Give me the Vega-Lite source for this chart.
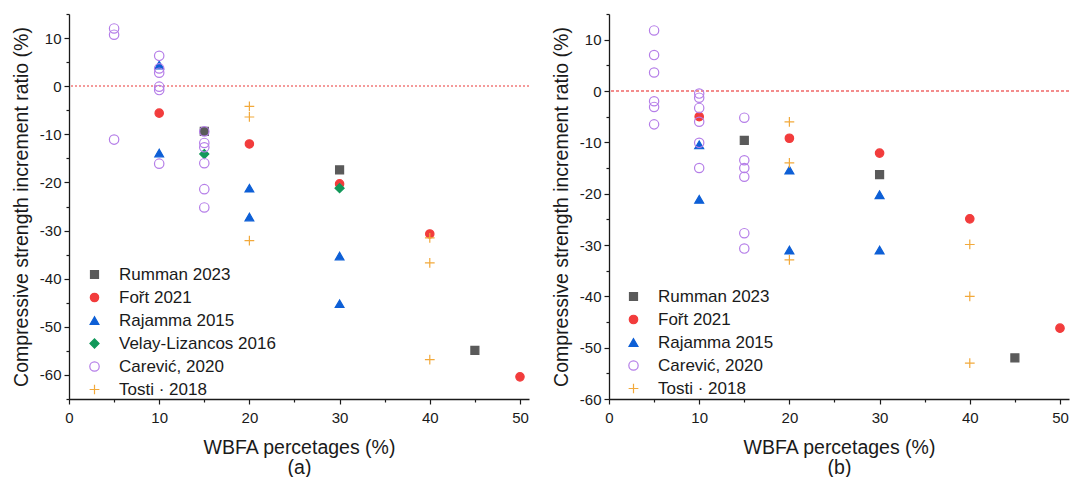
{
  "$schema": "https://vega.github.io/schema/vega-lite/v6.json",
  "padding": {"left": 11, "top": 13, "right": 0, "bottom": 0},
  "spacing": 21,
  "config": {
    "view": {"stroke": null},
    "font": "Liberation Sans",
    "axis": {
      "grid": false,
      "domainColor": "#1a1a1a",
      "domainWidth": 1.3,
      "tickColor": "#1a1a1a",
      "tickWidth": 1.2,
      "labelFont": "Liberation Sans",
      "labelFontSize": 15,
      "labelColor": "#1a1a1a",
      "titleFont": "Liberation Sans",
      "titleFontSize": 19.5,
      "titleFontWeight": "normal",
      "titleColor": "#1a1a1a"
    },
    "legend": {
      "labelFont": "Liberation Sans",
      "labelFontSize": 17,
      "labelColor": "#1a1a1a",
      "rowPadding": 5,
      "padding": 0,
      "labelOffset": 16,
      "symbolStrokeWidth": 1.2
    }
  },
  "datasets": {
    "a": [
      {"study": "Rumman 2023", "wbfa": 15, "ratio": -9.4},
      {"study": "Rumman 2023", "wbfa": 30, "ratio": -17.4},
      {"study": "Rumman 2023", "wbfa": 45, "ratio": -54.9},
      {"study": "Fořt 2021", "wbfa": 10, "ratio": -5.6},
      {"study": "Fořt 2021", "wbfa": 20, "ratio": -12.0},
      {"study": "Fořt 2021", "wbfa": 30, "ratio": -20.3},
      {"study": "Fořt 2021", "wbfa": 40, "ratio": -30.7},
      {"study": "Fořt 2021", "wbfa": 50, "ratio": -60.4},
      {"study": "Rajamma 2015", "wbfa": 10, "ratio": 4.4},
      {"study": "Rajamma 2015", "wbfa": 10, "ratio": -13.9},
      {"study": "Rajamma 2015", "wbfa": 20, "ratio": -21.2},
      {"study": "Rajamma 2015", "wbfa": 20, "ratio": -27.2},
      {"study": "Rajamma 2015", "wbfa": 30, "ratio": -35.3},
      {"study": "Rajamma 2015", "wbfa": 30, "ratio": -45.2},
      {"study": "Velay-Lizancos 2016", "wbfa": 15, "ratio": -14.1},
      {"study": "Velay-Lizancos 2016", "wbfa": 30, "ratio": -21.2},
      {"study": "Carević, 2020", "wbfa": 5, "ratio": 12.0},
      {"study": "Carević, 2020", "wbfa": 5, "ratio": 10.7},
      {"study": "Carević, 2020", "wbfa": 5, "ratio": -11.1},
      {"study": "Carević, 2020", "wbfa": 10, "ratio": 6.3},
      {"study": "Carević, 2020", "wbfa": 10, "ratio": 3.7},
      {"study": "Carević, 2020", "wbfa": 10, "ratio": 2.8},
      {"study": "Carević, 2020", "wbfa": 10, "ratio": -0.1},
      {"study": "Carević, 2020", "wbfa": 10, "ratio": -0.8},
      {"study": "Carević, 2020", "wbfa": 10, "ratio": -16.1},
      {"study": "Carević, 2020", "wbfa": 15, "ratio": -9.4},
      {"study": "Carević, 2020", "wbfa": 15, "ratio": -11.8},
      {"study": "Carević, 2020", "wbfa": 15, "ratio": -12.7},
      {"study": "Carević, 2020", "wbfa": 15, "ratio": -16.0},
      {"study": "Carević, 2020", "wbfa": 15, "ratio": -21.4},
      {"study": "Carević, 2020", "wbfa": 15, "ratio": -25.2},
      {"study": "Tosti · 2018", "wbfa": 20, "ratio": -4.2},
      {"study": "Tosti · 2018", "wbfa": 20, "ratio": -6.4},
      {"study": "Tosti · 2018", "wbfa": 20, "ratio": -32.1},
      {"study": "Tosti · 2018", "wbfa": 40, "ratio": -31.5},
      {"study": "Tosti · 2018", "wbfa": 40, "ratio": -36.7},
      {"study": "Tosti · 2018", "wbfa": 40, "ratio": -56.8}
    ],
    "b": [
      {"study": "Rumman 2023", "wbfa": 15, "ratio": -9.6},
      {"study": "Rumman 2023", "wbfa": 30, "ratio": -16.3},
      {"study": "Rumman 2023", "wbfa": 45, "ratio": -52.0},
      {"study": "Fořt 2021", "wbfa": 10, "ratio": -5.0},
      {"study": "Fořt 2021", "wbfa": 20, "ratio": -9.2},
      {"study": "Fořt 2021", "wbfa": 30, "ratio": -12.1},
      {"study": "Fořt 2021", "wbfa": 40, "ratio": -24.9},
      {"study": "Fořt 2021", "wbfa": 50, "ratio": -46.2},
      {"study": "Rajamma 2015", "wbfa": 10, "ratio": -10.5},
      {"study": "Rajamma 2015", "wbfa": 10, "ratio": -21.1},
      {"study": "Rajamma 2015", "wbfa": 20, "ratio": -15.4},
      {"study": "Rajamma 2015", "wbfa": 20, "ratio": -31.0},
      {"study": "Rajamma 2015", "wbfa": 30, "ratio": -20.2},
      {"study": "Rajamma 2015", "wbfa": 30, "ratio": -31.0},
      {"study": "Carević, 2020", "wbfa": 5, "ratio": 11.8},
      {"study": "Carević, 2020", "wbfa": 5, "ratio": 7.0},
      {"study": "Carević, 2020", "wbfa": 5, "ratio": 3.6},
      {"study": "Carević, 2020", "wbfa": 5, "ratio": -2.0},
      {"study": "Carević, 2020", "wbfa": 5, "ratio": -3.1},
      {"study": "Carević, 2020", "wbfa": 5, "ratio": -6.5},
      {"study": "Carević, 2020", "wbfa": 10, "ratio": -0.5},
      {"study": "Carević, 2020", "wbfa": 10, "ratio": -1.3},
      {"study": "Carević, 2020", "wbfa": 10, "ratio": -3.3},
      {"study": "Carević, 2020", "wbfa": 10, "ratio": -6.0},
      {"study": "Carević, 2020", "wbfa": 10, "ratio": -10.1},
      {"study": "Carević, 2020", "wbfa": 10, "ratio": -15.0},
      {"study": "Carević, 2020", "wbfa": 15, "ratio": -5.2},
      {"study": "Carević, 2020", "wbfa": 15, "ratio": -13.5},
      {"study": "Carević, 2020", "wbfa": 15, "ratio": -15.0},
      {"study": "Carević, 2020", "wbfa": 15, "ratio": -16.7},
      {"study": "Carević, 2020", "wbfa": 15, "ratio": -27.7},
      {"study": "Carević, 2020", "wbfa": 15, "ratio": -30.7},
      {"study": "Tosti · 2018", "wbfa": 20, "ratio": -6.0},
      {"study": "Tosti · 2018", "wbfa": 20, "ratio": -14.0},
      {"study": "Tosti · 2018", "wbfa": 20, "ratio": -32.9},
      {"study": "Tosti · 2018", "wbfa": 40, "ratio": -29.9},
      {"study": "Tosti · 2018", "wbfa": 40, "ratio": -40.0},
      {"study": "Tosti · 2018", "wbfa": 40, "ratio": -53.0}
    ]
  },
  "hconcat": [
    {
      "width": 460,
      "height": 385,
      "data": {"name": "a"},
      "layer": [
        {
          "mark": {"type": "rule", "color": "#f49a9a", "strokeDash": [2, 2], "strokeWidth": 1.4},
          "encoding": {
            "y": {"datum": 0, "type": "quantitative", "scale": {"domain": [-65, 15], "nice": false, "zero": false},
              "axis": {"title": "Compressive strength increment ratio (%)", "values": [-65,-60,-55,-50,-45,-40,-35,-30,-25,-20,-15,-10,-5,0,5,10,15], "labelExpr": "datum.value % 10 === 0 ? '' + datum.value : ''", "tickSize": {"condition": {"test": "datum.value % 10 === 0", "value": 5}, "value": 3}, "labelPadding": 3, "titlePadding": 8}}
          }
        },
        {
          "mark": {"type": "point", "opacity": 1, "strokeWidth": 1.2},
          "encoding": {
            "x": {"field": "wbfa", "type": "quantitative", "scale": {"domain": [0, 51], "nice": false, "zero": false},
              "axis": {"title": ["WBFA percetages (%)", "(a)"], "titleLineHeight": 20, "values": [0,5,10,15,20,25,30,35,40,45,50], "labelExpr": "datum.value % 10 === 0 ? '' + datum.value : ''", "tickSize": {"condition": {"test": "datum.value % 10 === 0", "value": 5}, "value": 3}, "labelPadding": 6, "titlePadding": 13, "labelFlush": false}},
            "y": {"field": "ratio", "type": "quantitative", "scale": {"domain": [-65, 15], "nice": false, "zero": false},
              "axis": {"title": "Compressive strength increment ratio (%)", "values": [-65,-60,-55,-50,-45,-40,-35,-30,-25,-20,-15,-10,-5,0,5,10,15], "labelExpr": "datum.value % 10 === 0 ? '' + datum.value : ''", "tickSize": {"condition": {"test": "datum.value % 10 === 0", "value": 5}, "value": 3}, "labelPadding": 3, "titlePadding": 8}},
            "shape": {"field": "study", "type": "nominal",
              "scale": {"domain": ["Rumman 2023", "Fořt 2021", "Rajamma 2015", "Velay-Lizancos 2016", "Carević, 2020", "Tosti · 2018"],
                "range": ["square", "circle", "triangle-up", "diamond", "circle", "M-1,0H1M0,-1V1"]},
              "legend": {"title": null, "orient": "none", "legendX": 17, "legendY": 252}},
            "fill": {"field": "study", "type": "nominal",
              "scale": {"domain": ["Rumman 2023", "Fořt 2021", "Rajamma 2015", "Velay-Lizancos 2016", "Carević, 2020", "Tosti · 2018"],
                "range": ["#5a5a5a", "#f23c3c", "#0d5fd6", "#12985a", "transparent", "transparent"]}},
            "stroke": {"field": "study", "type": "nominal",
              "scale": {"domain": ["Rumman 2023", "Fořt 2021", "Rajamma 2015", "Velay-Lizancos 2016", "Carević, 2020", "Tosti · 2018"],
                "range": ["#5a5a5a", "#f23c3c", "#0d5fd6", "#12985a", "#b57ee8", "#f2a93b"]}},
            "size": {"field": "study", "type": "nominal",
              "scale": {"domain": ["Rumman 2023", "Fořt 2021", "Rajamma 2015", "Velay-Lizancos 2016", "Carević, 2020", "Tosti · 2018"],
                "range": [64, 95, 110, 80, 85, 81]}}
          }
        }
      ]
    },
    {
      "width": 460,
      "height": 385,
      "data": {"name": "b"},
      "layer": [
        {
          "mark": {"type": "rule", "color": "#f28c8c", "strokeDash": [3, 2], "strokeWidth": 0.7},
          "encoding": {
            "y": {"datum": 0, "type": "quantitative", "scale": {"domain": [-60, 15], "nice": false, "zero": false},
              "axis": {"title": "Compressive strength increment ratio (%)", "values": [-60,-55,-50,-45,-40,-35,-30,-25,-20,-15,-10,-5,0,5,10,15], "labelExpr": "datum.value % 10 === 0 ? '' + datum.value : ''", "tickSize": {"condition": {"test": "datum.value % 10 === 0", "value": 5}, "value": 3}, "labelPadding": 3, "titlePadding": 8}}
          }
        },
        {
          "mark": {"type": "point", "opacity": 1, "strokeWidth": 1.2},
          "encoding": {
            "x": {"field": "wbfa", "type": "quantitative", "scale": {"domain": [0, 51], "nice": false, "zero": false},
              "axis": {"title": ["WBFA percetages (%)", "(b)"], "titleLineHeight": 20, "values": [0,5,10,15,20,25,30,35,40,45,50], "labelExpr": "datum.value % 10 === 0 ? '' + datum.value : ''", "tickSize": {"condition": {"test": "datum.value % 10 === 0", "value": 5}, "value": 3}, "labelPadding": 6, "titlePadding": 13, "labelFlush": false}},
            "y": {"field": "ratio", "type": "quantitative", "scale": {"domain": [-60, 15], "nice": false, "zero": false},
              "axis": {"title": "Compressive strength increment ratio (%)", "values": [-60,-55,-50,-45,-40,-35,-30,-25,-20,-15,-10,-5,0,5,10,15], "labelExpr": "datum.value % 10 === 0 ? '' + datum.value : ''", "tickSize": {"condition": {"test": "datum.value % 10 === 0", "value": 5}, "value": 3}, "labelPadding": 3, "titlePadding": 8}},
            "shape": {"field": "study", "type": "nominal",
              "scale": {"domain": ["Rumman 2023", "Fořt 2021", "Rajamma 2015", "Carević, 2020", "Tosti · 2018"],
                "range": ["square", "circle", "triangle-up", "circle", "M-1,0H1M0,-1V1"]},
              "legend": {"title": null, "orient": "none", "legendX": 16, "legendY": 274}},
            "fill": {"field": "study", "type": "nominal",
              "scale": {"domain": ["Rumman 2023", "Fořt 2021", "Rajamma 2015", "Carević, 2020", "Tosti · 2018"],
                "range": ["#5a5a5a", "#f23c3c", "#0d5fd6", "transparent", "transparent"]}},
            "stroke": {"field": "study", "type": "nominal",
              "scale": {"domain": ["Rumman 2023", "Fořt 2021", "Rajamma 2015", "Carević, 2020", "Tosti · 2018"],
                "range": ["#5a5a5a", "#f23c3c", "#0d5fd6", "#b57ee8", "#f2a93b"]}},
            "size": {"field": "study", "type": "nominal",
              "scale": {"domain": ["Rumman 2023", "Fořt 2021", "Rajamma 2015", "Carević, 2020", "Tosti · 2018"],
                "range": [64, 95, 110, 85, 81]}}
          }
        }
      ]
    }
  ],
  "resolve": {
    "scale": {"x": "independent", "y": "independent", "shape": "independent", "fill": "independent", "stroke": "independent", "size": "independent"},
    "legend": {"shape": "independent", "fill": "independent", "stroke": "independent", "size": "independent"}
  }
}
